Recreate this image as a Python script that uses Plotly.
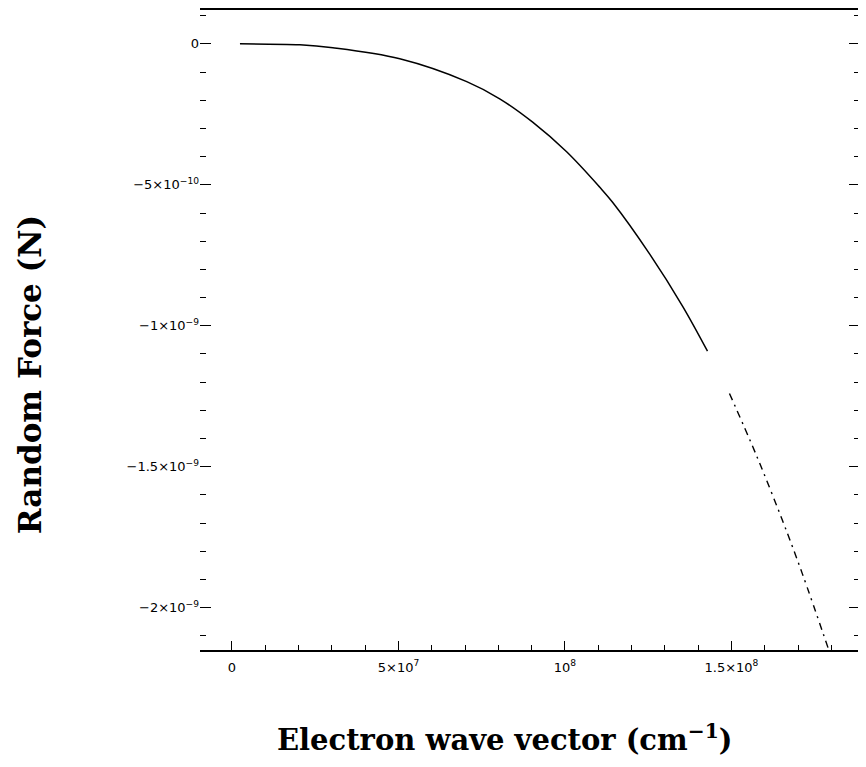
import plotly.graph_objects as go

# Electron wave vector (cm^-1) and random force (N)
k_solid = [2.4e6, 2.04e7, 3.03e7, 5.04e7, 7.05e7, 8.04e7, 9.03e7, 1.005e8, 1.104e8,
           1.143e8, 1.254e8, 1.353e8, 1.428e8]
f_solid = [0.0, -3.5e-12, -1.4e-11, -5.3e-11, -1.34e-10, -1.95e-10, -2.78e-10, -3.83e-10,
           -5.08e-10, -5.62e-10, -7.45e-10, -9.3e-10, -1.09e-9]
k_broken = [1.494e8, 1.575e8, 1.653e8, 1.713e8, 1.794e8]
f_broken = [-1.24e-9, -1.46e-9, -1.69e-9, -1.88e-9, -2.156e-9]

x_tickvals = [0, 5e7, 1e8, 1.5e8]
x_ticktext = ["0", "5×10<sup>7</sup>", "10<sup>8</sup>", "1.5×10<sup>8</sup>"]
y_tickvals = [0, -5e-10, -1e-9, -1.5e-9, -2e-9]
y_ticktext = ["0", "−5×10<sup>−10</sup>", "−1×10<sup>−9</sup>", "−1.5×10<sup>−9</sup>", "−2×10<sup>−9</sup>"]

fig = go.Figure()
fig.add_trace(go.Scatter(x=k_solid, y=f_solid, mode="lines",
                         line=dict(color="black", width=1.5, shape="spline", smoothing=1.0),
                         showlegend=False))
fig.add_trace(go.Scatter(x=k_broken, y=f_broken, mode="lines",
                         line=dict(color="black", width=1.4, dash="7px,5px,2px,5px", shape="spline"),
                         showlegend=False))

tick_font = dict(family="DejaVu Sans", size=13, color="black")

fig.update_layout(
    width=866, height=767,
    margin=dict(l=192, r=14, t=2, b=125),
    paper_bgcolor="white", plot_bgcolor="white",
    xaxis=dict(range=[-9.6e6, 1.886e8], tickvals=x_tickvals, ticktext=x_ticktext,
               ticks="inside", ticklen=9, tickwidth=1.2, tickcolor="black",
               showline=True, linecolor="black", linewidth=2, mirror=True,
               showgrid=False, zeroline=False, tickfont=tick_font, automargin=False,
               ticklabelstandoff=4,
               minor=dict(ticks="inside", dtick=1e7, tick0=0, ticklen=5, tickcolor="black", showgrid=False)),
    yaxis=dict(range=[-2.15e-9, 1.2e-10], tickvals=y_tickvals, ticktext=y_ticktext,
               ticks="inside", ticklen=11, tickwidth=1.2, tickcolor="black",
               showline=False, mirror="ticks",
               showgrid=False, zeroline=False, tickfont=tick_font, automargin=False,
               minor=dict(ticks="inside", dtick=1e-10, tick0=0, ticklen=6, tickcolor="black", showgrid=False)),
    annotations=[
        dict(text="<b>Electron wave vector (cm<sup>−1</sup>)</b>", xref="paper", yref="paper",
             x=0.462, y=-0.1375, xanchor="center", yanchor="middle", showarrow=False,
             font=dict(family="DejaVu Serif", size=29, color="black")),
        dict(text="<b>Random Force (N)</b>", xref="paper", yref="paper", textangle=-90,
             x=-0.2576, y=0.431, xanchor="center", yanchor="middle", showarrow=False,
             font=dict(family="DejaVu Serif", size=31, color="black")),
    ],
)

fig.write_html("out.html")
